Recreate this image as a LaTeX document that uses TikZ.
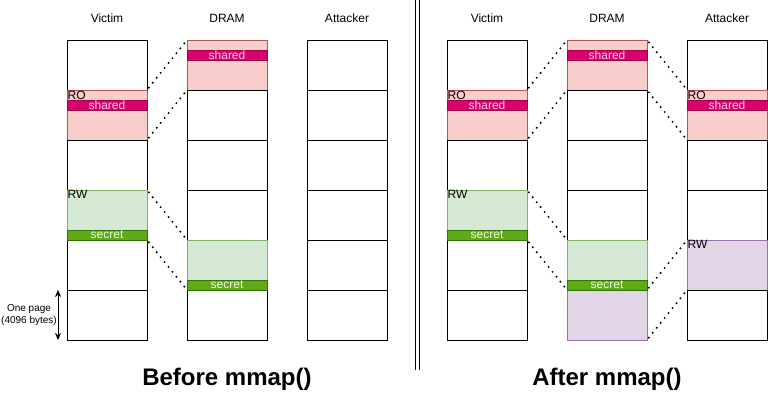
\documentclass[tikz,border=0pt]{standalone}
\usepackage{fontspec}
\setmainfont{Liberation Sans}
\usetikzlibrary{arrows.meta}
\definecolor{pinkfill}{HTML}{F8CECC}
\definecolor{pinkline}{HTML}{B85450}
\definecolor{sharedfill}{HTML}{D80073}
\definecolor{sharedline}{HTML}{A50040}
\definecolor{sharedtext}{HTML}{FFCCEE}
\definecolor{greenfill}{HTML}{D5E8D4}
\definecolor{greenline}{HTML}{82B366}
\definecolor{secretfill}{HTML}{60A917}
\definecolor{secretline}{HTML}{2D7600}
\definecolor{secrettext}{HTML}{EEFFE0}
\definecolor{purplefill}{HTML}{E1D5E7}
\definecolor{purpleline}{HTML}{9673A6}

\begin{document}
\begin{tikzpicture}[x=1pt, y=-1pt,
    cell/.style={draw, line width=0.8pt, minimum width=80pt, minimum height=50pt, inner sep=0pt, outer sep=0pt, fill=white},
    rocell/.style={cell, fill=pinkfill, draw=pinkline},
    rwcell/.style={cell, fill=greenfill, draw=greenline},
    atkcell/.style={cell, fill=purplefill, draw=purpleline},
    bar/.style={draw, line width=0.8pt, minimum width=80pt, minimum height=10pt, inner sep=0pt, outer sep=0pt, font=\fontsize{12}{12}\selectfont},
    sharedbar/.style={bar, fill=sharedfill, draw=sharedline, text=sharedtext},
    secretbar/.style={bar, fill=secretfill, draw=secretline, text=secrettext},
    tag/.style={anchor=north west, inner sep=0.5pt, font=\fontsize{12}{12}\selectfont},
    header/.style={font=\fontsize{12}{14}\selectfont},
    title/.style={font=\bfseries\fontsize{24}{28}\selectfont},
    map/.style={line width=2.2pt, line cap=round, dash pattern=on 0pt off 6.3pt, shorten <=3pt, shorten >=3pt}
]
    \useasboundingbox (0,0) rectangle (768,411);

    % before mmap()
    \node[header] (lvh) at (107, 18) {Victim};
    \node[header] (ldh) at (227, 18) {DRAM};
    \node[header] (lah) at (347, 18) {Attacker};
    \foreach \s [count=\i] in {cell, rocell, cell, rwcell, cell, cell}
        \node[\s] (lv\i) at (107, 15+50*\i) {};
    \foreach \s [count=\i] in {rocell, cell, cell, cell, rwcell, cell}
        \node[\s] (ld\i) at (227, 15+50*\i) {};
    \foreach \s [count=\i] in {cell, cell, cell, cell, cell, cell}
        \node[\s] (la\i) at (347, 15+50*\i) {};

    \node[sharedbar] (lvsh) at (107, 105) {shared};
    \node[sharedbar] (ldsh) at (227, 55) {shared};
    \node[secretbar] (lvse) at (107, 235) {secret};
    \node[secretbar] (ldse) at (227, 285) {secret};
    \node[tag] (lvro) at (lv2.north west) {RO};
    \node[tag] (lvrw) at (lv4.north west) {RW};

    \draw[map] (lv2.north east) -- (ld1.north west);
    \draw[map] (lv2.south east) -- (ld1.south west);
    \draw[map] (lv4.north east) -- (ld5.north west);
    \draw[map] (lv4.south east) -- (ld5.south west);

    \coordinate (ptop) at (58, 290);
    \coordinate (pbot) at (58, 340);
    \draw[{Stealth[length=7pt, width=6pt]}-{Stealth[length=7pt, width=6pt]}, line width=0.9pt] (ptop) -- (pbot);
    \node[font=\fontsize{10}{12}\selectfont, align=center] (page) at (29, 315) {One page\\(4096 bytes)};

    \node[title] (before) at (227, 379) {Before mmap()};

    % separator
    \draw[line width=0.8pt] (415, 0) -- (415, 370);
    \draw[line width=0.8pt] (419, 0) -- (419, 370);

    % after mmap()
    \node[header] (rvh) at (487, 18) {Victim};
    \node[header] (rdh) at (607, 18) {DRAM};
    \node[header] (rah) at (727, 18) {Attacker};
    \foreach \s [count=\i] in {cell, rocell, cell, rwcell, cell, cell}
        \node[\s] (rv\i) at (487, 15+50*\i) {};
    \foreach \s [count=\i] in {rocell, cell, cell, cell, rwcell, atkcell}
        \node[\s] (rd\i) at (607, 15+50*\i) {};
    \foreach \s [count=\i] in {cell, rocell, cell, cell, atkcell, cell}
        \node[\s] (ra\i) at (727, 15+50*\i) {};

    \node[sharedbar] (rvsh) at (487, 105) {shared};
    \node[sharedbar] (rdsh) at (607, 55) {shared};
    \node[sharedbar] (rash) at (727, 105) {shared};
    \node[secretbar] (rvse) at (487, 235) {secret};
    \node[secretbar] (rdse) at (607, 285) {secret};
    \node[tag] (rvro) at (rv2.north west) {RO};
    \node[tag] (rvrw) at (rv4.north west) {RW};
    \node[tag] (raro) at (ra2.north west) {RO};
    \node[tag] (rarw) at (ra5.north west) {RW};

    \draw[map] (rv2.north east) -- (rd1.north west);
    \draw[map] (rv2.south east) -- (rd1.south west);
    \draw[map] (rv4.north east) -- (rd5.north west);
    \draw[map] (rv4.south east) -- (rd5.south west);
    \draw[map] (rd1.north east) -- (ra2.north west);
    \draw[map] (rd1.south east) -- (ra2.south west);
    \draw[map] (rd6.north east) -- (ra5.north west);
    \draw[map] (rd6.south east) -- (ra5.south west);

    \node[title] (after) at (607, 379) {After mmap()};
\end{tikzpicture}
\end{document}
